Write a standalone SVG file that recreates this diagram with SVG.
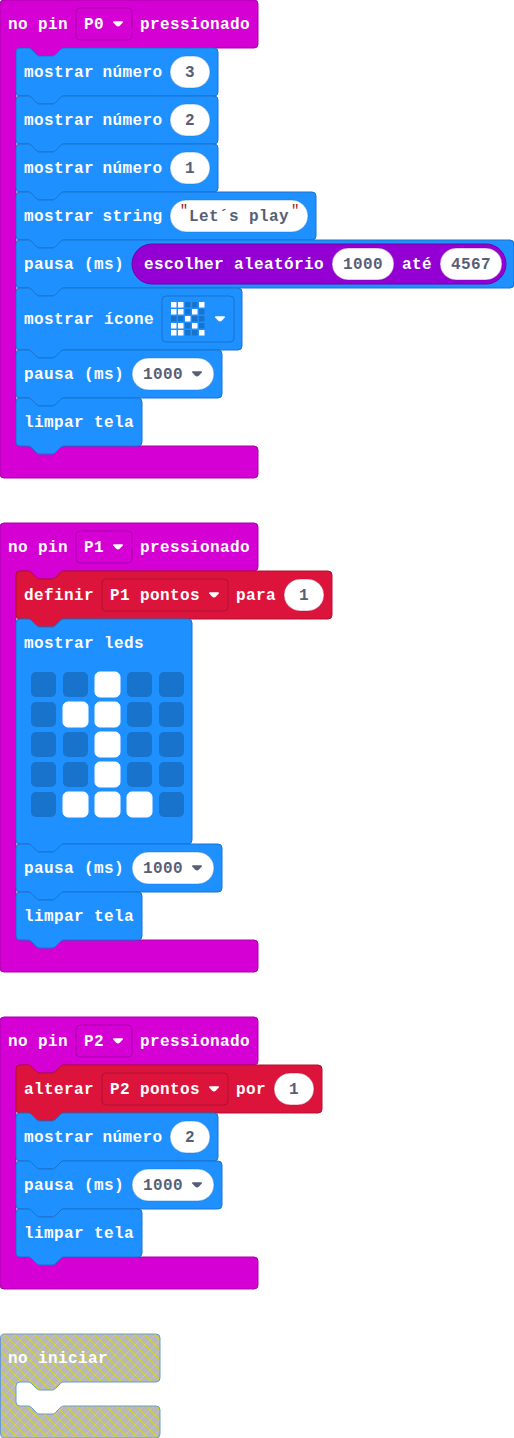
<svg xmlns="http://www.w3.org/2000/svg" width="514" height="1438" viewBox="0 0 514 1438">
<style>
text{font-family:"Liberation Mono",monospace;font-weight:700;font-size:16px;letter-spacing:.4px}
.l{fill:#fff}
.v{fill:#575E75;text-anchor:middle}
.q{fill:#A31515;font-weight:400;letter-spacing:0;font-size:14px}
.blue{fill:#1E90FF;stroke:#1873CC}
.mag{fill:#D400D4;stroke:#AA00AA}
.red{fill:#DC143C;stroke:#B01030}
.pur{fill:#9400D3;stroke:#7600A8}
.hatch{fill:url(#hp);stroke:#6C9BCB}
.p{fill:#fff;stroke:#1873CC;stroke-opacity:.45}
.pk{fill:#fff;stroke:#B01030;stroke-opacity:.45}
.pp{fill:#fff;stroke:#7600A8;stroke-opacity:.45}
.on{fill:#fff;stroke:#fff}
.off{fill:#1873CC}
.w{fill:#fff}
.d{fill:#575E75}
</style>
<defs>
<pattern id="hp" width="10" height="10" patternUnits="userSpaceOnUse">
<rect width="10" height="10" fill="#B8B8B8"/>
<path d="M0 0L10 10M10 0L0 10" stroke="#D6D62E" stroke-width="1" fill="none"/>
</pattern>
<path id="arrow" d="M1.200 .2H8.800Q10.600 .2 9.800 1.500L7 4.400Q6 5.400 5 5.400T3 4.400L.2 1.500Q-.6 .2 1.200 .2Z"/>
</defs>

<g id="connectors"></g>

<g id="stack-p0">
<g id="hat-p0">
<path class="mag" d="M0 4a4 4 0 0 1 4-4H254a4 4 0 0 1 4 4V44a4 4 0 0 1-4 4H64c-2 0-3 1-4 2l-4 4c-1 1-2 2-4 2h-12c-2 0-3-1-4-2l-4-4c-1-1-2-2-4-2H20a4 4 0 0 0-4 4V442a4 4 0 0 0 4 4H254a4 4 0 0 1 4 4V474a4 4 0 0 1-4 4H4a4 4 0 0 1-4-4Z"/>
<text class="l" x="8" y="29">no pin</text>
<rect class="mag" x="76" y="8" width="56" height="32" rx="4"/>
<text class="l" x="84" y="29">P0</text>
<use href="#arrow" class="w" x="113" y="21"/>
<text class="l" x="140" y="29">pressionado</text>
</g>
<g id="n1">
<path class="blue" d="M16 52a4 4 0 0 1 4-4h8c2 0 3 1 4 2l4 4c1 1 2 2 4 2h12c2 0 3-1 4-2l4-4c1-1 2-2 4-2H214a4 4 0 0 1 4 4V92a4 4 0 0 1-4 4H64c-2 0-3 1-4 2l-4 4c-1 1-2 2-4 2h-12c-2 0-3-1-4-2l-4-4c-1-1-2-2-4-2H20a4 4 0 0 1-4-4Z"/>
<text class="l" x="24" y="77">mostrar <tspan dx="-1.500">número</tspan></text>
<rect class="p" x="170" y="56" width="40" height="32" rx="16"/>
<text class="v" x="190" y="77">3</text>
</g>
<g id="n2">
<path class="blue" d="M16 100a4 4 0 0 1 4-4h8c2 0 3 1 4 2l4 4c1 1 2 2 4 2h12c2 0 3-1 4-2l4-4c1-1 2-2 4-2H214a4 4 0 0 1 4 4V140a4 4 0 0 1-4 4H64c-2 0-3 1-4 2l-4 4c-1 1-2 2-4 2h-12c-2 0-3-1-4-2l-4-4c-1-1-2-2-4-2H20a4 4 0 0 1-4-4Z"/>
<text class="l" x="24" y="125">mostrar <tspan dx="-1.500">número</tspan></text>
<rect class="p" x="170" y="104" width="40" height="32" rx="16"/>
<text class="v" x="190" y="125">2</text>
</g>
<g id="n3">
<path class="blue" d="M16 148a4 4 0 0 1 4-4h8c2 0 3 1 4 2l4 4c1 1 2 2 4 2h12c2 0 3-1 4-2l4-4c1-1 2-2 4-2H214a4 4 0 0 1 4 4V188a4 4 0 0 1-4 4H64c-2 0-3 1-4 2l-4 4c-1 1-2 2-4 2h-12c-2 0-3-1-4-2l-4-4c-1-1-2-2-4-2H20a4 4 0 0 1-4-4Z"/>
<text class="l" x="24" y="173">mostrar <tspan dx="-1.500">número</tspan></text>
<rect class="p" x="170" y="152" width="40" height="32" rx="16"/>
<text class="v" x="190" y="173">1</text>
</g>
<g id="n4">
<path class="blue" d="M16 196a4 4 0 0 1 4-4h8c2 0 3 1 4 2l4 4c1 1 2 2 4 2h12c2 0 3-1 4-2l4-4c1-1 2-2 4-2H312a4 4 0 0 1 4 4V236a4 4 0 0 1-4 4H64c-2 0-3 1-4 2l-4 4c-1 1-2 2-4 2h-12c-2 0-3-1-4-2l-4-4c-1-1-2-2-4-2H20a4 4 0 0 1-4-4Z"/>
<text class="l" x="24" y="221">mostrar <tspan dx="-1.500">string</tspan></text>
<rect class="p" x="170" y="200" width="138" height="32" rx="16"/>
<text class="q" x="179.800" y="215">"</text>
<text class="v" x="239" y="221">Let´s play</text>
<text class="q" x="291" y="215">"</text>
</g>
<g id="n5">
<path class="blue" d="M16 244a4 4 0 0 1 4-4h8c2 0 3 1 4 2l4 4c1 1 2 2 4 2h12c2 0 3-1 4-2l4-4c1-1 2-2 4-2H510a4 4 0 0 1 4 4V284a4 4 0 0 1-4 4H64c-2 0-3 1-4 2l-4 4c-1 1-2 2-4 2h-12c-2 0-3-1-4-2l-4-4c-1-1-2-2-4-2H20a4 4 0 0 1-4-4Z"/>
<text class="l" x="24" y="269">pausa (ms)</text>
<rect class="pur" x="132" y="244" width="374" height="40" rx="20"/>
<text class="l" x="144" y="269">escolher aleatório</text>
<rect class="pp" x="332" y="248" width="62" height="32" rx="16"/>
<text class="v" x="363" y="269">1000</text>
<text class="l" x="402" y="269">até</text>
<rect class="pp" x="440" y="248" width="62" height="32" rx="16"/>
<text class="v" x="471" y="269">4567</text>
</g>
<g id="n6">
<path class="blue" d="M16 292a4 4 0 0 1 4-4h8c2 0 3 1 4 2l4 4c1 1 2 2 4 2h12c2 0 3-1 4-2l4-4c1-1 2-2 4-2H238a4 4 0 0 1 4 4V346a4 4 0 0 1-4 4H64c-2 0-3 1-4 2l-4 4c-1 1-2 2-4 2h-12c-2 0-3-1-4-2l-4-4c-1-1-2-2-4-2H20a4 4 0 0 1-4-4Z"/>
<text class="l" x="24" y="324">mostrar ícone</text>
<rect class="blue" x="162" y="296" width="72" height="46" rx="4"/>
<path fill="#fff" d="M171 302h5.500v5.500h-5.500zM178 302h5.500v5.500h-5.500zM199 302h5.500v5.500h-5.500zM171 309h5.500v5.500h-5.500zM178 309h5.500v5.500h-5.500zM192 309h5.500v5.500h-5.500zM185 316h5.500v5.500h-5.500zM171 323h5.500v5.500h-5.500zM178 323h5.500v5.500h-5.500zM192 323h5.500v5.500h-5.500zM171 330h5.500v5.500h-5.500zM178 330h5.500v5.500h-5.500zM199 330h5.500v5.500h-5.500z"/>
<path class="off" d="M185 302h5.500v5.500h-5.500zM192 302h5.500v5.500h-5.500zM185 309h5.500v5.500h-5.500zM199 309h5.500v5.500h-5.500zM171 316h5.500v5.500h-5.500zM178 316h5.500v5.500h-5.500zM192 316h5.500v5.500h-5.500zM199 316h5.500v5.500h-5.500zM185 323h5.500v5.500h-5.500zM199 323h5.500v5.500h-5.500zM185 330h5.500v5.500h-5.500zM192 330h5.500v5.500h-5.500z"/>
<use href="#arrow" class="w" x="215" y="316"/>
</g>
<g id="n7">
<path class="blue" d="M16 354a4 4 0 0 1 4-4h8c2 0 3 1 4 2l4 4c1 1 2 2 4 2h12c2 0 3-1 4-2l4-4c1-1 2-2 4-2H218a4 4 0 0 1 4 4V394a4 4 0 0 1-4 4H64c-2 0-3 1-4 2l-4 4c-1 1-2 2-4 2h-12c-2 0-3-1-4-2l-4-4c-1-1-2-2-4-2H20a4 4 0 0 1-4-4Z"/>
<text class="l" x="24" y="379">pausa (ms)</text>
<rect class="p" x="132" y="358" width="82" height="32" rx="16"/>
<text class="v" x="163" y="379">1000</text>
<use href="#arrow" class="d" x="192" y="371"/>
</g>
<g id="n8">
<path class="blue" d="M16 402a4 4 0 0 1 4-4h8c2 0 3 1 4 2l4 4c1 1 2 2 4 2h12c2 0 3-1 4-2l4-4c1-1 2-2 4-2H138a4 4 0 0 1 4 4V442a4 4 0 0 1-4 4H64c-2 0-3 1-4 2l-4 4c-1 1-2 2-4 2h-12c-2 0-3-1-4-2l-4-4c-1-1-2-2-4-2H20a4 4 0 0 1-4-4Z"/>
<text class="l" x="24" y="427">limpar tela</text>
</g>
</g>

<g id="stack-p1">
<g id="hat-p1">
<path class="mag" d="M0 527a4 4 0 0 1 4-4H254a4 4 0 0 1 4 4V567a4 4 0 0 1-4 4H64c-2 0-3 1-4 2l-4 4c-1 1-2 2-4 2h-12c-2 0-3-1-4-2l-4-4c-1-1-2-2-4-2H20a4 4 0 0 0-4 4V936a4 4 0 0 0 4 4H254a4 4 0 0 1 4 4V968a4 4 0 0 1-4 4H4a4 4 0 0 1-4-4Z"/>
<text class="l" x="8" y="552">no pin</text>
<rect class="mag" x="76" y="531" width="56" height="32" rx="4"/>
<text class="l" x="84" y="552">P1</text>
<use href="#arrow" class="w" x="113" y="544"/>
<text class="l" x="140" y="552">pressionado</text>
</g>
<g id="n9">
<path class="red" d="M16 575a4 4 0 0 1 4-4h8c2 0 3 1 4 2l4 4c1 1 2 2 4 2h12c2 0 3-1 4-2l4-4c1-1 2-2 4-2H328a4 4 0 0 1 4 4V615a4 4 0 0 1-4 4H64c-2 0-3 1-4 2l-4 4c-1 1-2 2-4 2h-12c-2 0-3-1-4-2l-4-4c-1-1-2-2-4-2H20a4 4 0 0 1-4-4Z"/>
<text class="l" x="24" y="600">definir</text>
<rect class="red" x="102" y="579" width="126" height="32" rx="4"/>
<text class="l" x="110" y="600">P1 pontos</text>
<use href="#arrow" class="w" x="209" y="592"/>
<text class="l" x="236" y="600">para</text>
<rect class="pk" x="284" y="579" width="40" height="32" rx="16"/>
<text class="v" x="304" y="600">1</text>
</g>
<g id="n10">
<path class="blue" d="M16 623a4 4 0 0 1 4-4h8c2 0 3 1 4 2l4 4c1 1 2 2 4 2h12c2 0 3-1 4-2l4-4c1-1 2-2 4-2H188a4 4 0 0 1 4 4V840a4 4 0 0 1-4 4H64c-2 0-3 1-4 2l-4 4c-1 1-2 2-4 2h-12c-2 0-3-1-4-2l-4-4c-1-1-2-2-4-2H20a4 4 0 0 1-4-4Z"/>
<text class="l" x="24" y="648">mostrar leds</text>
<g class="off">
<rect x="31" y="672" width="25" height="25" rx="5"/><rect x="63" y="672" width="25" height="25" rx="5"/><rect x="127" y="672" width="25" height="25" rx="5"/><rect x="159" y="672" width="25" height="25" rx="5"/>
<rect x="31" y="702" width="25" height="25" rx="5"/><rect x="127" y="702" width="25" height="25" rx="5"/><rect x="159" y="702" width="25" height="25" rx="5"/>
<rect x="31" y="732" width="25" height="25" rx="5"/><rect x="63" y="732" width="25" height="25" rx="5"/><rect x="127" y="732" width="25" height="25" rx="5"/><rect x="159" y="732" width="25" height="25" rx="5"/>
<rect x="31" y="762" width="25" height="25" rx="5"/><rect x="63" y="762" width="25" height="25" rx="5"/><rect x="127" y="762" width="25" height="25" rx="5"/><rect x="159" y="762" width="25" height="25" rx="5"/>
<rect x="31" y="792" width="25" height="25" rx="5"/><rect x="159" y="792" width="25" height="25" rx="5"/>
</g>
<g class="on">
<rect x="95" y="672" width="25" height="25" rx="5"/>
<rect x="63" y="702" width="25" height="25" rx="5"/><rect x="95" y="702" width="25" height="25" rx="5"/>
<rect x="95" y="732" width="25" height="25" rx="5"/>
<rect x="95" y="762" width="25" height="25" rx="5"/>
<rect x="63" y="792" width="25" height="25" rx="5"/><rect x="95" y="792" width="25" height="25" rx="5"/><rect x="127" y="792" width="25" height="25" rx="5"/>
</g>
</g>
<g id="n11">
<path class="blue" d="M16 848a4 4 0 0 1 4-4h8c2 0 3 1 4 2l4 4c1 1 2 2 4 2h12c2 0 3-1 4-2l4-4c1-1 2-2 4-2H218a4 4 0 0 1 4 4V888a4 4 0 0 1-4 4H64c-2 0-3 1-4 2l-4 4c-1 1-2 2-4 2h-12c-2 0-3-1-4-2l-4-4c-1-1-2-2-4-2H20a4 4 0 0 1-4-4Z"/>
<text class="l" x="24" y="873">pausa (ms)</text>
<rect class="p" x="132" y="852" width="82" height="32" rx="16"/>
<text class="v" x="163" y="873">1000</text>
<use href="#arrow" class="d" x="192" y="865"/>
</g>
<g id="n12">
<path class="blue" d="M16 896a4 4 0 0 1 4-4h8c2 0 3 1 4 2l4 4c1 1 2 2 4 2h12c2 0 3-1 4-2l4-4c1-1 2-2 4-2H138a4 4 0 0 1 4 4V936a4 4 0 0 1-4 4H64c-2 0-3 1-4 2l-4 4c-1 1-2 2-4 2h-12c-2 0-3-1-4-2l-4-4c-1-1-2-2-4-2H20a4 4 0 0 1-4-4Z"/>
<text class="l" x="24" y="921">limpar tela</text>
</g>
</g>

<g id="stack-p2">
<g id="hat-p2">
<path class="mag" d="M0 1021a4 4 0 0 1 4-4H254a4 4 0 0 1 4 4V1061a4 4 0 0 1-4 4H64c-2 0-3 1-4 2l-4 4c-1 1-2 2-4 2h-12c-2 0-3-1-4-2l-4-4c-1-1-2-2-4-2H20a4 4 0 0 0-4 4V1253a4 4 0 0 0 4 4H254a4 4 0 0 1 4 4V1285a4 4 0 0 1-4 4H4a4 4 0 0 1-4-4Z"/>
<text class="l" x="8" y="1046">no pin</text>
<rect class="mag" x="76" y="1025" width="56" height="32" rx="4"/>
<text class="l" x="84" y="1046">P2</text>
<use href="#arrow" class="w" x="113" y="1038"/>
<text class="l" x="140" y="1046">pressionado</text>
</g>
<g id="n13">
<path class="red" d="M16 1069a4 4 0 0 1 4-4h8c2 0 3 1 4 2l4 4c1 1 2 2 4 2h12c2 0 3-1 4-2l4-4c1-1 2-2 4-2H318a4 4 0 0 1 4 4V1109a4 4 0 0 1-4 4H64c-2 0-3 1-4 2l-4 4c-1 1-2 2-4 2h-12c-2 0-3-1-4-2l-4-4c-1-1-2-2-4-2H20a4 4 0 0 1-4-4Z"/>
<text class="l" x="24" y="1094">alterar</text>
<rect class="red" x="102" y="1073" width="126" height="32" rx="4"/>
<text class="l" x="110" y="1094">P2 pontos</text>
<use href="#arrow" class="w" x="209" y="1086"/>
<text class="l" x="236" y="1094">por</text>
<rect class="pk" x="274" y="1073" width="40" height="32" rx="16"/>
<text class="v" x="294" y="1094">1</text>
</g>
<g id="n14">
<path class="blue" d="M16 1117a4 4 0 0 1 4-4h8c2 0 3 1 4 2l4 4c1 1 2 2 4 2h12c2 0 3-1 4-2l4-4c1-1 2-2 4-2H214a4 4 0 0 1 4 4V1157a4 4 0 0 1-4 4H64c-2 0-3 1-4 2l-4 4c-1 1-2 2-4 2h-12c-2 0-3-1-4-2l-4-4c-1-1-2-2-4-2H20a4 4 0 0 1-4-4Z"/>
<text class="l" x="24" y="1142">mostrar <tspan dx="-1.500">número</tspan></text>
<rect class="p" x="170" y="1121" width="40" height="32" rx="16"/>
<text class="v" x="190" y="1142">2</text>
</g>
<g id="n15">
<path class="blue" d="M16 1165a4 4 0 0 1 4-4h8c2 0 3 1 4 2l4 4c1 1 2 2 4 2h12c2 0 3-1 4-2l4-4c1-1 2-2 4-2H218a4 4 0 0 1 4 4V1205a4 4 0 0 1-4 4H64c-2 0-3 1-4 2l-4 4c-1 1-2 2-4 2h-12c-2 0-3-1-4-2l-4-4c-1-1-2-2-4-2H20a4 4 0 0 1-4-4Z"/>
<text class="l" x="24" y="1190">pausa (ms)</text>
<rect class="p" x="132" y="1169" width="82" height="32" rx="16"/>
<text class="v" x="163" y="1190">1000</text>
<use href="#arrow" class="d" x="192" y="1182"/>
</g>
<g id="n16">
<path class="blue" d="M16 1213a4 4 0 0 1 4-4h8c2 0 3 1 4 2l4 4c1 1 2 2 4 2h12c2 0 3-1 4-2l4-4c1-1 2-2 4-2H138a4 4 0 0 1 4 4V1253a4 4 0 0 1-4 4H64c-2 0-3 1-4 2l-4 4c-1 1-2 2-4 2h-12c-2 0-3-1-4-2l-4-4c-1-1-2-2-4-2H20a4 4 0 0 1-4-4Z"/>
<text class="l" x="24" y="1238">limpar tela</text>
</g>
</g>

<g id="hat-start">
<path class="hatch" d="M0.500 1338a4 4 0 0 1 4-4H156a4 4 0 0 1 4 4V1378a4 4 0 0 1-4 4H64c-2 0-3 1-4 2l-4 4c-1 1-2 2-4 2h-12c-2 0-3-1-4-2l-4-4c-1-1-2-2-4-2H20a4 4 0 0 0-4 4V1402a4 4 0 0 0 4 4h8c2 0 3 1 4 2l4 4c1 1 2 2 4 2h12c2 0 3-1 4-2l4-4c1-1 2-2 4-2H156a4 4 0 0 1 4 4V1434a4 4 0 0 1-4 4H4.500a4 4 0 0 1-4-4Z"/>
<text class="l" x="8" y="1363">no iniciar</text>
</g>
</svg>
